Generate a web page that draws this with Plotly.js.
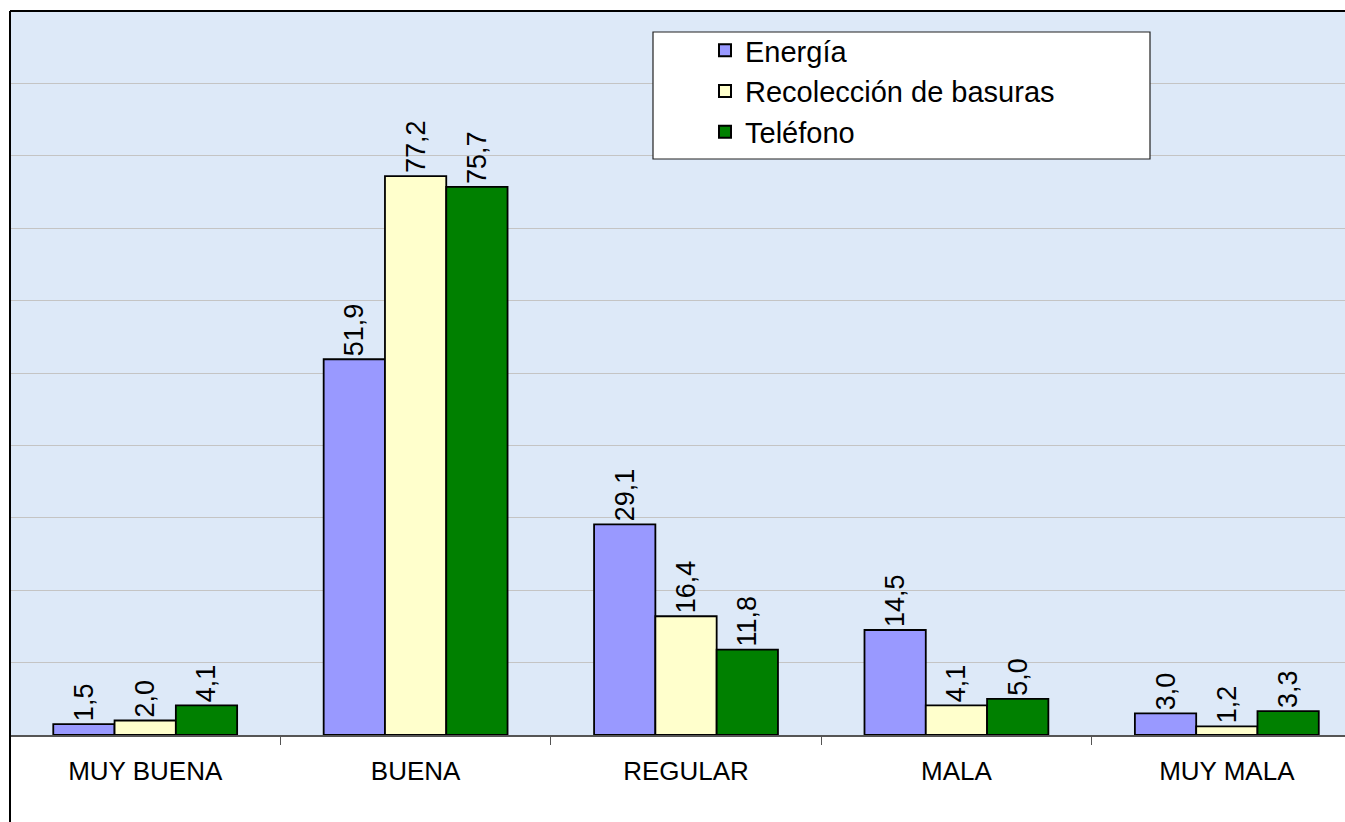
<!DOCTYPE html>
<html>
<head>
<meta charset="utf-8">
<script src="https://cdn.plot.ly/plotly-3.0.1.min.js"></script>
<style>
  html, body { margin: 0; padding: 0; background: #ffffff; }
  #chart { width: 1345px; height: 822px; }
</style>
</head>
<body>
<div id="chart"></div>
<script>
const categories = ["MUY BUENA", "BUENA", "REGULAR", "MALA", "MUY MALA"];
const seriesNames = ["Energía", "Recolección de basuras", "Teléfono"];
const energia = [1.5, 51.9, 29.1, 14.5, 3.0];
const recoleccion = [2.0, 77.2, 16.4, 4.1, 1.2];
const telefono = [4.1, 75.7, 11.8, 5.0, 3.3];
const seriesColors = ["#9999ff", "#ffffcc", "#008000"];

const fmt = v => v.toFixed(1).replace(".", ",");
const allSeries = [energia, recoleccion, telefono];

const traces = allSeries.map((vals, i) => ({
  type: "bar",
  name: seriesNames[i],
  x: categories,
  y: vals,
  text: vals.map(fmt),
  textposition: "outside",
  textangle: -90,
  constraintext: "none",
  cliponaxis: false,
  outsidetextfont: { family: "Liberation Sans, Arial, sans-serif", size: 27, color: "#000000" },
  marker: { color: seriesColors[i], line: { color: "#000000", width: 1.8 } },
  hoverinfo: "x+y+name"
}));

const L = 10, T = 11, B = 87, W = 1345, H = 822;
const plotW = W - L, plotH = H - T - B;
const px = x => (x - L) / plotW;
const py = y => (H - B - y) / plotH;

const layout = {
  width: W,
  height: H,
  margin: { l: L, r: 0, t: T, b: B, pad: 0 },
  paper_bgcolor: "#ffffff",
  plot_bgcolor: "#dde9f8",
  separators: ",.",
  barmode: "group",
  bargap: 0.32,
  bargroupgap: 0,
  showlegend: true,
  font: { family: "Liberation Sans, Arial, sans-serif", color: "#000000" },
  xaxis: {
    type: "category",
    range: [-0.5, 4.437],
    tickson: "boundaries",
    ticks: "outside",
    ticklen: 8,
    tickwidth: 1,
    tickcolor: "#555555",
    showline: true,
    linecolor: "#555555",
    linewidth: 1.5,
    showgrid: false,
    zeroline: false,
    tickfont: { family: "Liberation Sans, Arial, sans-serif", size: 26, color: "#000000" },
    ticklabelstandoff: 12,
    fixedrange: true
  },
  yaxis: {
    range: [0, 100],
    dtick: 10,
    tick0: 0,
    showticklabels: false,
    ticks: "",
    showgrid: true,
    gridcolor: "#c4c4c4",
    gridwidth: 1,
    zeroline: false,
    showline: false,
    fixedrange: true
  },
  legend: {
    x: px(705),
    y: py(25),
    xanchor: "left",
    yanchor: "top",
    bgcolor: "rgba(0,0,0,0)",
    borderwidth: 0,
    font: { family: "Liberation Sans, Arial, sans-serif", size: 29, color: "#000000" },
    tracegroupgap: 0,
    itemsizing: "constant"
  },
  shapes: [
    // legend box
    { type: "rect", xref: "paper", yref: "paper", x0: px(653), x1: px(1150), y0: py(159), y1: py(32),
      fillcolor: "#ffffff", line: { color: "#222222", width: 1.2 }, layer: "above" },
    // chart border (top + left)
    { type: "line", xref: "paper", yref: "paper", x0: 0, x1: 1, y0: 1, y1: 1,
      line: { color: "#000000", width: 2 }, layer: "above" },
    { type: "line", xref: "paper", yref: "paper", x0: 0, x1: 0, y0: py(H), y1: 1,
      line: { color: "#000000", width: 2 }, layer: "above" }
  ]
};

Plotly.newPlot("chart", traces, layout, { displayModeBar: false, staticPlot: true });
</script>
</body>
</html>
